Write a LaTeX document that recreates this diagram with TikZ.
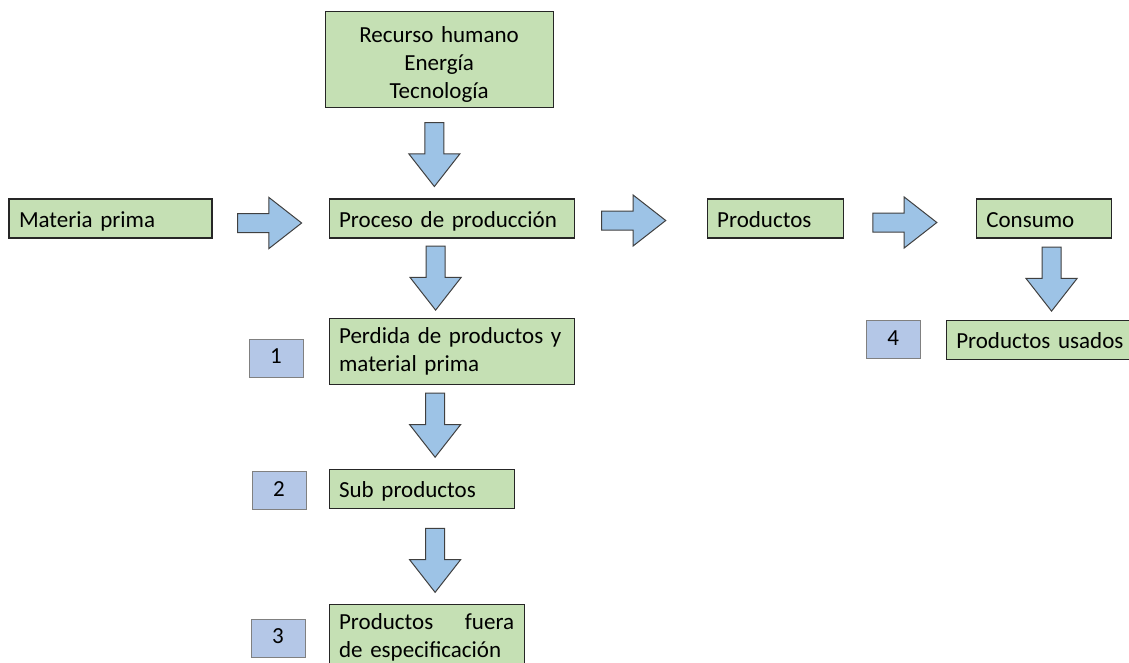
\documentclass[tikz,border=0pt]{standalone}
\usepackage{fontspec}
\setmainfont{Carlito}
\usetikzlibrary{positioning,calc,shapes.arrows}

\definecolor{boxgreen}{RGB}{197,224,180}
\definecolor{boxblue}{RGB}{180,199,231}
\definecolor{arrowblue}{RGB}{157,195,230}

\begin{document}
\begin{tikzpicture}[x=1pt, y=1pt, font=\fontsize{23}{28}\selectfont]
  \tikzstyle{stage}=[draw=black!85, line width=1.1pt, fill=boxgreen, align=left, inner xsep=10pt, inner ysep=0pt, minimum height=39pt, text height=19pt, text depth=2pt]
  \tikzstyle{twoline}=[text height=, text depth=, minimum height=66pt]
  \tikzstyle{tag}=[draw=black!50, line width=1pt, fill=boxblue, minimum width=54pt, minimum height=38pt, inner sep=0pt, text height=16pt, text depth=5pt]
  \tikzstyle{flow}=[single arrow, draw=black!75, line width=1pt, fill=arrowblue, minimum height=64pt, inner sep=9pt, single arrow head extend=16pt, single arrow tip angle=76]
  \path[use as bounding box, fill=white] (0,0) rectangle (1129,-663);

  \node[stage, text width=183pt] (materia) at (110.5,-218.5) {Materia prima};
  \node[stage, text width=225pt, right=116pt of materia] (proceso) {Proceso de producción};
  \node[stage, text width=116pt, right=132pt of proceso] (productos) {Productos};
  \node[stage, text width=115pt, right=132pt of productos] (consumo) {Consumo};
  \node[stage, twoline, text height=26pt, text width=208pt, align=center, minimum height=96pt, above=90pt of proceso, xshift=-12.5pt] (recursos) {Recurso humano\\Energía\\Tecnología};

  \node[stage, twoline, text width=225pt, below right=79pt and 0pt of proceso.south west] (perdida) {Perdida de productos y\\material prima};
  \node[stage, text width=165pt, below right=84pt and 0pt of perdida.south west] (sub) {Sub productos};
  \node[stage, twoline, text width=175pt, below right=95pt and 0pt of sub.south west] (fuera) {Productos\hskip 0pt plus 1fill fuera\\de especificación};
  \node[stage, text width=190pt, below right=81pt and -30pt of consumo.south west] (usados) {Productos usados};

  \node[tag, left=25pt of perdida, yshift=-7pt] (n1) {1};
  \node[tag, left=22pt of sub, yshift=-2pt] (n2) {2};
  \node[tag, left=23pt of fuera, yshift=-1pt] (n3) {3};
  \node[tag, left=25pt of usados] (n4) {4};

  % block arrows between the stages
  \node[flow, xshift=-7pt, yshift=-4.5pt] (a1) at ($(materia.east)!0.5!(proceso.west)$) {};
  \node[flow, xshift=-13pt, yshift=-2pt] (a2) at ($(proceso.east)!0.5!(productos.west)$) {};
  \node[flow, xshift=-11pt, yshift=-4pt] (a3) at ($(productos.east)!0.5!(consumo.west)$) {};
  \node[flow, shape border rotate=270, xshift=-11pt, yshift=5pt] (a4) at ($(recursos.south)!0.5!(proceso.north)$) {};
  \node[flow, shape border rotate=270, xshift=-16pt, yshift=6pt] (a5) at ($(proceso.south)!0.5!(perdida.north)$) {};
  \node[flow, shape border rotate=270, xshift=-1.5pt, yshift=7.5pt] (a6) at ($(perdida.south)!0.5!(sub.north)$) {};
  \node[flow, shape border rotate=270, xshift=11pt, yshift=2pt] (a7) at ($(sub.south)!0.5!(fuera.north)$) {};
  \node[flow, shape border rotate=270, xshift=4pt, yshift=6pt] (a8) at ($(consumo.south)!0.5!(usados.north)$) {};
\end{tikzpicture}
\end{document}
